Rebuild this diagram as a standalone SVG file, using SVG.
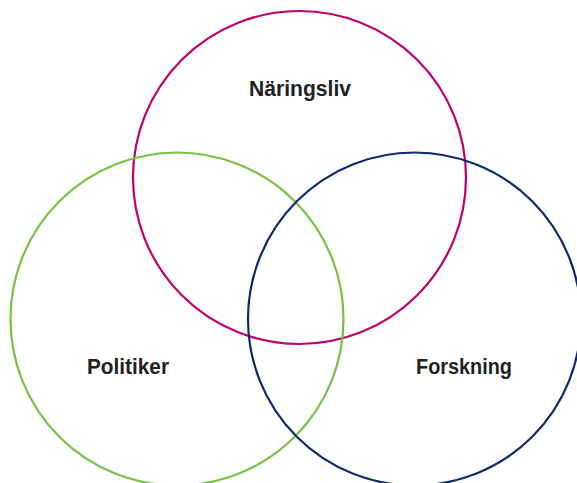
<svg xmlns="http://www.w3.org/2000/svg" width="577" height="483" viewBox="0 0 577 483">
<style>
.c{fill:none;stroke-width:2.2}
.t{font-family:"Liberation Sans",Arial,sans-serif;font-weight:bold;font-size:22px;fill:#222;text-anchor:middle}
</style>
<rect width="577" height="483" fill="#fff"/>
<g id="naringsliv"><circle class="c" cx="299.5" cy="177.5" r="166.5" stroke="#C0006A"/><text class="t" x="300" y="96" textLength="102" lengthAdjust="spacingAndGlyphs">Näringsliv</text></g>
<g id="politiker"><circle class="c" cx="177" cy="319" r="166.5" stroke="#78C143"/><text class="t" x="128" y="374" textLength="82" lengthAdjust="spacingAndGlyphs">Politiker</text></g>
<g id="forskning"><circle class="c" cx="414.5" cy="319" r="166.5" stroke="#0E2A6B"/><text class="t" x="464" y="374" textLength="96" lengthAdjust="spacingAndGlyphs">Forskning</text></g>
<g id="connectors"/>
</svg>
